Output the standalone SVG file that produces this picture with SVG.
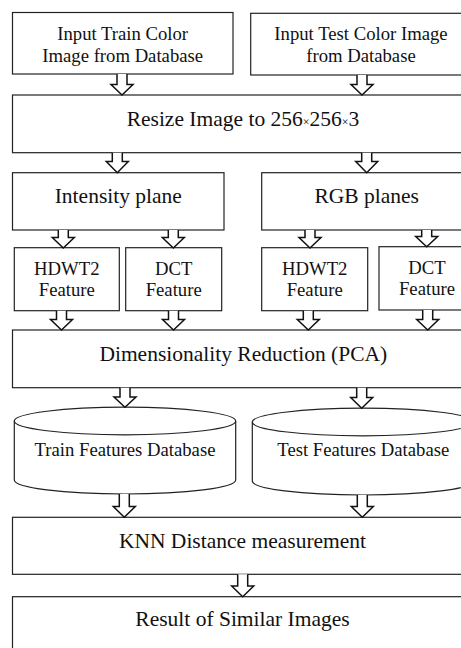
<svg xmlns="http://www.w3.org/2000/svg" width="461" height="648" viewBox="0 0 461 648">
<style>
.b{fill:#fff;stroke:#222;stroke-width:1.2}
.a{fill:#fff;stroke:#111;stroke-width:1.5;stroke-linejoin:miter}
text{font-family:"Liberation Serif","Times New Roman",serif;fill:#111;text-anchor:middle}
.t18{font-size:18.7px}
.t20{font-size:21.5px}
.x{font-size:12px}
</style>
<rect width="461" height="648" fill="#fff"/>
<g id="train-input"><rect class="b" x="12.5" y="12.5" width="220.5" height="61.5"/><text class="t18" x="122.7" y="39.5">Input Train Color</text><text class="t18" x="122.7" y="61.5">Image from Database</text></g>
<g id="test-input"><rect class="b" x="250.7" y="13.3" width="222" height="61.7"/><text class="t18" x="361" y="40">Input Test Color Image</text><text class="t18" x="361" y="62">from Database</text></g>
<g id="resize"><rect class="b" x="12.5" y="95" width="462" height="57.7"/><text class="t20" x="243" y="126">Resize Image to 256<tspan class="x">×</tspan>256<tspan class="x">×</tspan>3</text></g>
<g id="intensity"><rect class="b" x="12.5" y="172.7" width="211.5" height="57.3"/><text class="t20" x="118.3" y="202.7">Intensity plane</text></g>
<g id="rgb"><rect class="b" x="261.7" y="172.7" width="212" height="57.3"/><text class="t20" x="366.7" y="202.7">RGB planes</text></g>
<g id="hdwt2-i"><rect class="b" x="14.3" y="247.7" width="105" height="63"/><text class="t18" x="66.8" y="275">HDWT2</text><text class="t18" x="66.8" y="296">Feature</text></g>
<g id="dct-i"><rect class="b" x="125.7" y="247.7" width="96" height="63"/><text class="t18" x="173.7" y="275">DCT</text><text class="t18" x="173.7" y="296">Feature</text></g>
<g id="hdwt2-rgb"><rect class="b" x="261.7" y="247.7" width="106" height="63"/><text class="t18" x="314.7" y="275">HDWT2</text><text class="t18" x="314.7" y="296">Feature</text></g>
<g id="dct-rgb"><rect class="b" x="379" y="246.7" width="96" height="63.3"/><text class="t18" x="427" y="274">DCT</text><text class="t18" x="427" y="295">Feature</text></g>
<g id="pca"><rect class="b" x="12.5" y="330" width="462" height="57.7"/><text class="t20" x="243.3" y="361">Dimensionality Reduction (PCA)</text></g>
<g id="train-db"><path class="b" d="M14.3 421 V480 A110.7 14 0 0 0 235.7 480 V421"/><ellipse class="b" cx="125" cy="421" rx="110.7" ry="13.8"/><text class="t18" x="125" y="456">Train Features Database</text></g>
<g id="test-db"><path class="b" d="M252.3 422 V481 A110.7 14 0 0 0 473.7 481 V422"/><ellipse class="b" cx="363" cy="422" rx="110.7" ry="13.8"/><text class="t18" x="363.3" y="456">Test Features Database</text></g>
<g id="knn"><rect class="b" x="12.5" y="517.3" width="462" height="57"/><text class="t20" x="242.5" y="547.7">KNN Distance measurement</text></g>
<g id="result"><rect class="b" x="12.5" y="596.7" width="462" height="60"/><text class="t20" x="242.5" y="626">Result of Similar Images</text></g>
<g id="connectors">
<path class="a" d="M117 74 V84.5 H111 L122 95 L133 84.5 H127 V74"/>
<path class="a" d="M357 75 V84.5 H351 L362 95 L373 84.5 H367 V75"/>
<path class="a" d="M112.3 152.7 V161.5 H106.3 L117.3 172.7 L128.3 161.5 H122.3 V152.7"/>
<path class="a" d="M361.7 152.7 V161.5 H355.7 L366.7 172.7 L377.7 161.5 H371.7 V152.7"/>
<path class="a" d="M58.3 230 V237.5 H52.3 L63.3 248 L74.3 237.5 H68.3 V230"/>
<path class="a" d="M168.3 230 V237.5 H162.3 L173.3 248 L184.3 237.5 H178.3 V230"/>
<path class="a" d="M305 230 V237.5 H299 L310 248 L321 237.5 H315 V230"/>
<path class="a" d="M421.7 230 V236.5 H415.7 L426.7 246.7 L437.7 236.5 H431.7 V230"/>
<path class="a" d="M56.5 310.7 V319.5 H50.5 L61.5 330 L72.5 319.5 H66.5 V310.7"/>
<path class="a" d="M168.5 310.7 V319.5 H162.5 L173.5 330 L184.5 319.5 H178.5 V310.7"/>
<path class="a" d="M303.3 310.7 V319.5 H297.3 L308.3 330 L319.3 319.5 H313.3 V310.7"/>
<path class="a" d="M422.7 310 V319.5 H416.7 L427.7 330 L438.7 319.5 H432.7 V310"/>
<path class="a" d="M120 387.7 V397 H114 L125 407.3 L136 397 H130 V387.7"/>
<path class="a" d="M356.7 387.7 V397.5 H350.7 L361.7 408.3 L372.7 397.5 H366.7 V387.7"/>
<path class="a" d="M119.3 494 V506.5 H113.3 L124.3 517.3 L135.3 506.5 H129.3 V494"/>
<path class="a" d="M357.3 495 V506.5 H351.3 L362.3 517.3 L373.3 506.5 H367.3 V495"/>
<path class="a" d="M237.7 574.3 V586 H231.7 L242.7 596.7 L253.7 586 H247.7 V574.3"/>
</g>
</svg>
